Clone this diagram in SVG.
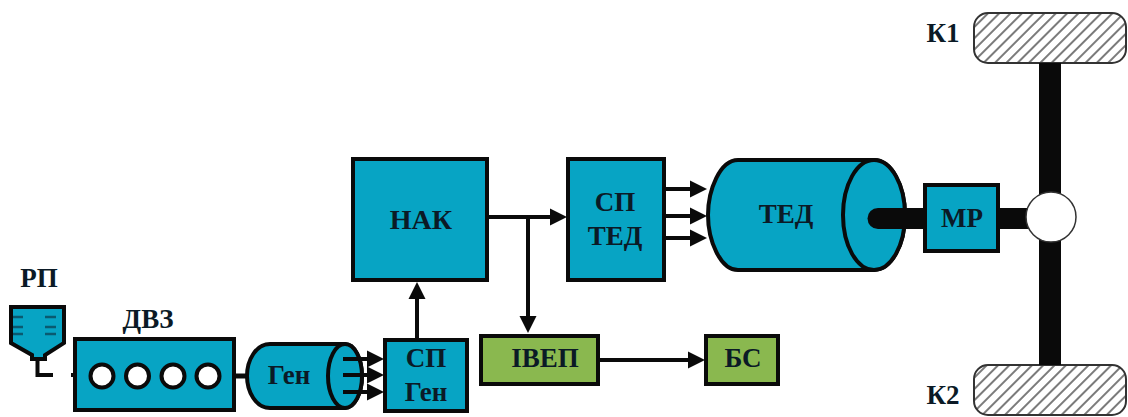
<svg xmlns="http://www.w3.org/2000/svg" width="1128" height="417" viewBox="0 0 1128 417">
<style>
.b{fill:#07a4c4;stroke:#0a0a0a;stroke-width:4}
.g{fill:#8ab84f;stroke:#0a0a0a;stroke-width:4}
.c{fill:#fff;stroke:#0a0a0a;stroke-width:4}
.l{fill:none;stroke:#0a0a0a;stroke-width:4}
.t{font-family:"Liberation Serif",serif;font-weight:bold;font-size:27px;fill:#0b1a26;text-anchor:middle}
.w{fill:url(#h);stroke:#333;stroke-width:2}
</style>
<defs>
<marker id="a" markerUnits="userSpaceOnUse" markerWidth="17" markerHeight="18" refX="11" refY="9" orient="auto"><path d="M0 0.500L17 9L0 17.500Z" fill="#0a0a0a"/></marker>
<pattern id="h" width="8" height="8" patternUnits="userSpaceOnUse" patternTransform="rotate(-45)"><rect width="8" height="8" fill="#fff"/><path d="M0 4H8" stroke="#333" stroke-width="1.300"/></pattern>
</defs>
<g id="wheel-k1"><rect class="w" x="974" y="13" width="152" height="50" rx="14"/><text class="t" x="943" y="42">К1</text></g>
<g id="wheel-k2"><rect class="w" x="974" y="365" width="152" height="50" rx="14"/><text class="t" x="943" y="404">К2</text></g>
<g id="connectors">
<rect x="1039" y="63" width="22" height="302" fill="#0a0a0a"/>
<path d="M999 218.500H1030" stroke="#0a0a0a" stroke-width="21"/>
<path class="l" d="M71 375H74"/>
<path class="l" d="M235 376H247" style="stroke-width:5"/>
<path class="l" d="M417 339V288" marker-end="url(#a)"/>
<path class="l" d="M488 217H561" marker-end="url(#a)"/>
<path class="l" d="M528 217V327" marker-end="url(#a)"/>
<path class="l" d="M599 360H699" marker-end="url(#a)"/>
<path class="l" d="M665 189H701" marker-end="url(#a)"/>
<path class="l" d="M665 216H701" marker-end="url(#a)"/>
<path class="l" d="M665 238H701" marker-end="url(#a)"/>
</g>
<g id="rp"><path class="b" d="M11 307H64V343L45 355V359H32V355L11 343Z"/><path d="M13 317H23M45 317H56M13 327H23M45 327H56M13 334H23M45 334H56" stroke="#0a5a70" stroke-width="2.500"/><path class="l" d="M37.500 359V375H53"/><text class="t" x="39" y="287">РП</text></g>
<g id="dvz"><rect class="b" x="75" y="339" width="159" height="71"/><circle class="c" cx="102" cy="376" r="11.500"/><circle class="c" cx="137.500" cy="376" r="11.500"/><circle class="c" cx="173" cy="376" r="11.500"/><circle class="c" cx="208" cy="376" r="11.500"/><text class="t" x="148" y="328">ДВЗ</text></g>
<g id="gen"><path class="b" d="M270 344H345A17 32 0 0 1 345 408H270C256 408 247 392 247 376C247 360 256 344 270 344Z"/><ellipse class="b" cx="345" cy="376" rx="17" ry="32"/><text class="t" x="289" y="384">Ген</text></g>
<g id="gen-arrows"><path class="l" d="M343 359H378" marker-end="url(#a)"/><path class="l" d="M343 375H378" marker-end="url(#a)"/><path class="l" d="M343 392H378" marker-end="url(#a)"/></g>
<g id="sp-gen"><rect class="b" x="385" y="340" width="82" height="71"/><text class="t" x="426" y="367">СП</text><text class="t" x="426" y="401">Ген</text></g>
<g id="nak"><rect class="b" x="353" y="159" width="134" height="121"/><text class="t" x="421" y="229" style="font-size:28px">НАК</text></g>
<g id="sp-ted"><rect class="b" x="568" y="159" width="96" height="121"/><text class="t" x="615" y="211">СП</text><text class="t" x="615" y="245">ТЕД</text></g>
<g id="ivep"><rect class="g" x="481" y="336" width="117" height="48"/><text class="t" x="545" y="367">ІВЕП</text></g>
<g id="bs"><rect class="g" x="706" y="336" width="72" height="48"/><text class="t" x="743" y="367">БС</text></g>
<g id="ted"><path class="b" d="M738 160H874A31 55 0 0 1 874 270H738C720 270 708 240 708 215C708 190 720 160 738 160Z"/><ellipse class="b" cx="874" cy="215" rx="31" ry="55"/><text class="t" x="786" y="223">ТЕД</text></g>
<g id="shaft"><path d="M878 218.500H925" stroke="#0a0a0a" stroke-width="21" stroke-linecap="round"/></g>
<g id="mp"><rect class="b" x="925" y="185" width="73" height="66"/><text class="t" x="962" y="227">МР</text></g>
<g id="hub"><circle cx="1051" cy="217" r="25" fill="#fff" stroke="#333" stroke-width="1.500"/></g>
</svg>
